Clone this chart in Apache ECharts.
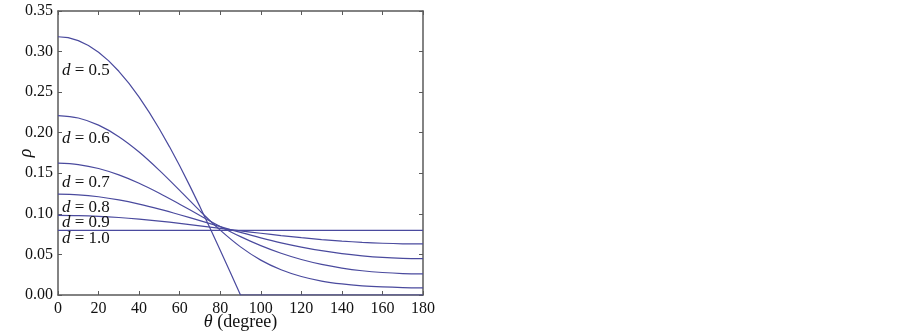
<!DOCTYPE html>
<html>
<head>
<meta charset="utf-8">
<script src="https://cdn.jsdelivr.net/npm/echarts@6/dist/echarts.min.js"></script>
<style>
html,body{margin:0;padding:0;background:#fff;}
#chart{width:902px;height:331px;}
</style>
</head>
<body>
<div id="chart"></div>
<script>
// x ticks / y ticks
const xTicks = [0, 20, 40, 60, 80, 100, 120, 140, 160, 180];
const yTicks = [0.00, 0.05, 0.10, 0.15, 0.20, 0.25, 0.30, 0.35];

// theta sample points (degree)
const theta = [0, 10, 20, 30, 40, 50, 60, 70, 80, 90, 100, 110, 120, 130, 140, 150, 160, 170, 180];
const thetaHalf = [0, 5, 10, 15, 20, 25, 30, 35, 40, 45, 50, 55, 60, 65, 70, 75, 80, 85, 90, 180];

// rho values
const rho05 = [0.3183, 0.3171, 0.3135, 0.3075, 0.2991, 0.2885, 0.2757, 0.2607, 0.2438, 0.2251, 0.2046, 0.1826, 0.1592, 0.1345, 0.1089, 0.0824, 0.0553, 0.0277, 0.0000, 0.0000];
const rho06 = [0.2211, 0.2181, 0.2093, 0.1951, 0.1762, 0.1536, 0.1289, 0.1036, 0.0799, 0.0593, 0.0430, 0.0311, 0.0228, 0.0172, 0.0136, 0.0113, 0.0099, 0.0091, 0.0088];
const rho07 = [0.1624, 0.1607, 0.1559, 0.1480, 0.1377, 0.1254, 0.1119, 0.0980, 0.0845, 0.0719, 0.0608, 0.0514, 0.0437, 0.0377, 0.0332, 0.0299, 0.0277, 0.0264, 0.0260];
const rho08 = [0.1243, 0.1235, 0.1211, 0.1172, 0.1120, 0.1058, 0.0989, 0.0916, 0.0842, 0.0771, 0.0704, 0.0643, 0.0591, 0.0546, 0.0510, 0.0483, 0.0463, 0.0452, 0.0448];
const rho09 = [0.0982, 0.0979, 0.0970, 0.0955, 0.0935, 0.0911, 0.0883, 0.0853, 0.0822, 0.0791, 0.0761, 0.0732, 0.0706, 0.0683, 0.0664, 0.0649, 0.0638, 0.0631, 0.0629];
const rho10 = [0.0796, 0.0796, 0.0796, 0.0796, 0.0796, 0.0796, 0.0796, 0.0796, 0.0796, 0.0796, 0.0796, 0.0796, 0.0796, 0.0796, 0.0796, 0.0796, 0.0796, 0.0796, 0.0796];

const dLabels = ['0.5', '0.6', '0.7', '0.8', '0.9', '1.0'];

const FONT = "'Liberation Serif', 'DejaVu Serif', serif";
const LINE = '#4a4a9e';
const AXIS = '#5a5a5a';

function zip(xs, ys) { return xs.map((x, i) => [x, ys[i]]); }

const curves = [
  { name: 'd=0.5', data: zip(thetaHalf, rho05), smooth: false },
  { name: 'd=0.6', data: zip(theta, rho06), smooth: 0.35 },
  { name: 'd=0.7', data: zip(theta, rho07), smooth: 0.35 },
  { name: 'd=0.8', data: zip(theta, rho08), smooth: 0.35 },
  { name: 'd=0.9', data: zip(theta, rho09), smooth: 0.35 },
  { name: 'd=1.0', data: zip(theta, rho10), smooth: false }
];

const axisCommon = {
  axisLine: { show: true, onZero: false, lineStyle: { color: AXIS, width: 1.5 } },
  axisTick: { show: true, inside: true, length: 4, lineStyle: { color: AXIS, width: 1 } },
  splitLine: { show: false }
};

const xBase = {
  type: 'value', min: xTicks[0], max: xTicks[xTicks.length - 1], interval: xTicks[1] - xTicks[0]
};
const yBase = {
  type: 'value', min: yTicks[0], max: yTicks[yTicks.length - 1], interval: 0.05
};

const labelY = [71, 139, 183, 208, 223, 239];

const chart = echarts.init(document.getElementById('chart'), null, { renderer: 'canvas' });
chart.setOption({
  animation: false,
  backgroundColor: '#ffffff',
  grid: { left: 58, top: 11, right: 479, bottom: 36, containLabel: false, outerBoundsMode: 'none' },
  xAxis: [
    Object.assign({}, xBase, axisCommon, {
      position: 'bottom',
      axisLabel: { show: true, margin: 6, color: '#111', fontFamily: FONT, fontSize: 16 },
      name: '{i|θ} (degree)',
      nameLocation: 'middle',
      nameGap: 18,
      nameMoveOverlap: false,
      nameTextStyle: {
        color: '#111', fontFamily: FONT, fontSize: 18, verticalAlign: 'top',
        rich: { i: { fontStyle: 'italic', fontFamily: FONT, fontSize: 18, color: '#111' } }
      }
    }),
    Object.assign({}, xBase, axisCommon, {
      position: 'top',
      axisLabel: { show: false }
    })
  ],
  yAxis: [
    Object.assign({}, yBase, axisCommon, {
      position: 'left',
      axisLabel: {
        show: true, margin: 5, color: '#111', fontFamily: FONT, fontSize: 16,
        formatter: v => v.toFixed(2)
      },
      name: 'ρ',
      nameLocation: 'middle',
      nameRotate: 90,
      nameGap: 23,
      nameMoveOverlap: false,
      nameTextStyle: { color: '#111', fontFamily: FONT, fontSize: 18, fontStyle: 'italic' }
    }),
    Object.assign({}, yBase, axisCommon, {
      position: 'right',
      axisLabel: { show: false }
    })
  ],
  series: curves.map(c => ({
    type: 'line',
    name: c.name,
    data: c.data,
    smooth: c.smooth,
    showSymbol: false,
    symbol: 'none',
    clip: true,
    lineStyle: { color: LINE, width: 1.2 },
    xAxisIndex: 0,
    yAxisIndex: 0,
    z: 3
  })),
  graphic: dLabels.map((t, i) => ({
    type: 'text',
    x: 62,
    y: labelY[i],
    z: 10,
    style: {
      text: '{i|d} = ' + t,
      fontFamily: FONT,
      fontSize: 17,
      fill: '#111',
      verticalAlign: 'middle',
      rich: { i: { fontStyle: 'italic', fontFamily: FONT, fontSize: 17, fill: '#111' } }
    }
  }))
});
</script>
</body>
</html>
